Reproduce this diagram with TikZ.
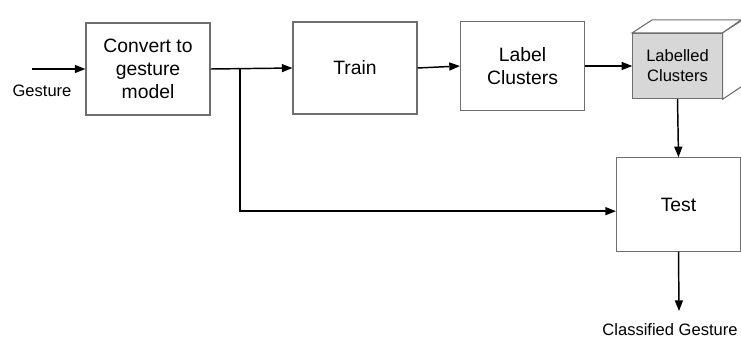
\documentclass[tikz,border=0pt]{standalone}
\usepackage{fontspec}
\setmainfont{Liberation Sans}
\usetikzlibrary{arrows.meta}
\definecolor{boxline}{RGB}{110,110,110}
\definecolor{cubegray}{RGB}{215,215,215}

\begin{document}
\begin{tikzpicture}[x=0.75pt,y=-0.75pt,
  blockbox/.style={draw=boxline, line width=0.8pt, fill=white, minimum width=93pt, minimum height=69pt, align=center, font=\fontsize{14.5}{17}\selectfont},
  flow/.style={line width=1.1pt, -{Triangle[length=8pt,width=6pt]}},
  smalltxt/.style={font=\fontsize{12.4}{15}\selectfont}]

\useasboundingbox (0,0) rectangle (741,340);

% blocks
\node[blockbox] (conv) at (148,69) {Convert to\\gesture\\model};
\node[blockbox] (train) at (355,68) {Train};
\node[blockbox, minimum height=67pt] (label) at (522.5,66) {Label\\Clusters};
\node[blockbox, minimum height=70pt] (test) at (678.5,204.5) {Test};

% cube
\node[draw=boxline, line width=0.8pt, fill=cubegray, minimum width=67pt, minimum height=49pt, align=center, smalltxt] (cube) at (677.5,66) {Labelled\\Clusters};
\draw[boxline, line width=0.8pt, fill=white] (cube.north west) -- ++(20,-13) -- ++(89,0) -- (cube.north east) -- cycle;
\draw[boxline, line width=0.8pt, fill=white] (cube.north east) -- ++(20,-13) -- ++(0,66) -- (cube.south east) -- cycle;

% input and output
\coordinate (in) at (32,69);
\coordinate (out) at (679,311);
\coordinate (br) at (240,69);
\node[smalltxt] (gest) at (42,91) {Gesture};
\node[smalltxt] (cls) at (670,330) {Classified Gesture};

% connectors
\draw[flow] (in) -- (conv.west);
\draw[flow] (conv.east) -- (train.west);
\draw[flow] (train.east) -- (label.west);
\draw[flow] (label.east) -- (cube.west);
\draw[flow] (cube.south) -- (test.north);
\draw[flow] (br) |- ([yshift=-5pt]test.west);
\draw[flow] (test.south) -- (out);

\end{tikzpicture}
\end{document}
